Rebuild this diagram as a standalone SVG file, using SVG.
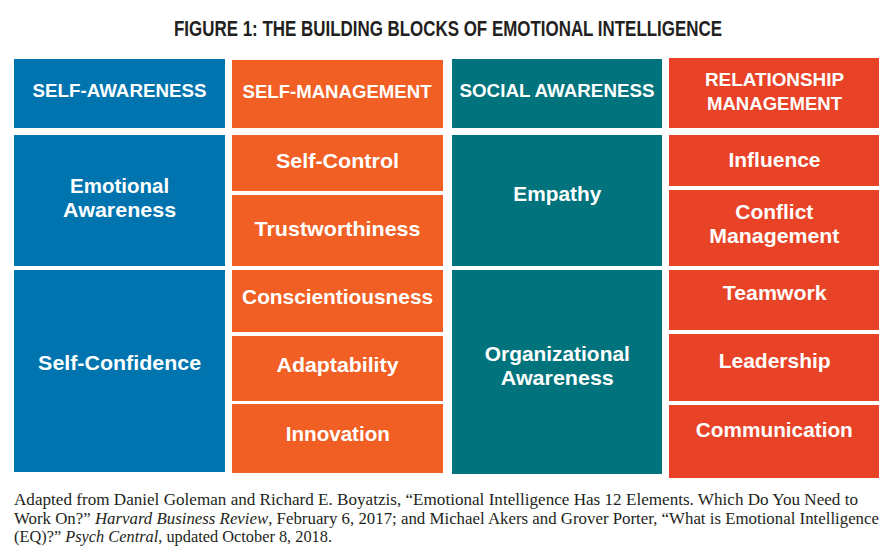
<svg xmlns="http://www.w3.org/2000/svg" width="894" height="557" viewBox="0 0 894 557">
<style>
.blue{fill:#0074AF}
.orange{fill:#F15F24}
.teal{fill:#01737D}
.red{fill:#E84326}
.title{font-family:"Liberation Sans",Arial,sans-serif;font-weight:bold;font-size:22.5px;fill:#231F20;text-anchor:middle}
.hdr{font-family:"Liberation Sans",Arial,sans-serif;font-weight:bold;font-size:17.5px;fill:#FFFFFF;text-anchor:middle}
.lbl{font-family:"Liberation Sans",Arial,sans-serif;font-weight:bold;font-size:21px;fill:#FFFFFF;text-anchor:middle}
.note{font-family:"Liberation Serif","Times New Roman",serif;font-size:16.5px;fill:#231F20}
</style>
<rect width="894" height="557" fill="#FFFFFF"/>
<g id="title" transform="translate(448,36) scale(0.665,1)">
<text class="title" x="0" y="0" textLength="824" lengthAdjust="spacingAndGlyphs">FIGURE 1: THE BUILDING BLOCKS OF EMOTIONAL INTELLIGENCE</text>
</g>

<g id="hdr-self-awareness">
<rect class="blue" x="14" y="59" width="211" height="69"/>
<text class="hdr" x="119.5" y="96.7" textLength="174" lengthAdjust="spacingAndGlyphs">SELF-AWARENESS</text>
</g>
<g id="hdr-self-management">
<rect class="orange" x="232" y="60" width="211" height="68"/>
<text class="hdr" x="337" y="97.5" textLength="189" lengthAdjust="spacingAndGlyphs">SELF-MANAGEMENT</text>
</g>
<g id="hdr-social-awareness">
<rect class="teal" x="452" y="59" width="210" height="69"/>
<text class="hdr" x="557" y="96.5" textLength="195" lengthAdjust="spacingAndGlyphs">SOCIAL AWARENESS</text>
</g>
<g id="hdr-relationship-management">
<rect class="red" x="669" y="58" width="210" height="70"/>
<text class="hdr" x="774.5" y="86" textLength="139" lengthAdjust="spacingAndGlyphs">RELATIONSHIP</text>
<text class="hdr" x="774.5" y="110.3" textLength="135" lengthAdjust="spacingAndGlyphs">MANAGEMENT</text>
</g>

<g id="emotional-awareness">
<rect class="blue" x="14" y="135" width="211" height="131"/>
<text class="lbl" x="119.6" y="192.7" textLength="99" lengthAdjust="spacingAndGlyphs">Emotional</text>
<text class="lbl" x="119.6" y="216.7" textLength="113" lengthAdjust="spacingAndGlyphs">Awareness</text>
</g>
<g id="self-confidence">
<rect class="blue" x="14" y="270" width="211" height="202"/>
<text class="lbl" x="119.6" y="370.3" textLength="163" lengthAdjust="spacingAndGlyphs">Self-Confidence</text>
</g>

<g id="self-control">
<rect class="orange" x="232" y="135" width="211" height="56"/>
<text class="lbl" x="337.5" y="167.7" textLength="123" lengthAdjust="spacingAndGlyphs">Self-Control</text>
</g>
<g id="trustworthiness">
<rect class="orange" x="232" y="195" width="211" height="71"/>
<text class="lbl" x="337.5" y="236" textLength="166" lengthAdjust="spacingAndGlyphs">Trustworthiness</text>
</g>
<g id="conscientiousness">
<rect class="orange" x="232" y="270" width="211" height="62"/>
<text class="lbl" x="337.6" y="304.3" textLength="191" lengthAdjust="spacingAndGlyphs">Conscientiousness</text>
</g>
<g id="adaptability">
<rect class="orange" x="232" y="336" width="211" height="65"/>
<text class="lbl" x="337.5" y="372.3" textLength="122" lengthAdjust="spacingAndGlyphs">Adaptability</text>
</g>
<g id="innovation">
<rect class="orange" x="232" y="404" width="211" height="69"/>
<text class="lbl" x="337.8" y="441" textLength="104" lengthAdjust="spacingAndGlyphs">Innovation</text>
</g>

<g id="empathy">
<rect class="teal" x="452" y="135" width="210" height="131"/>
<text class="lbl" x="557.3" y="200.7" textLength="88" lengthAdjust="spacingAndGlyphs">Empathy</text>
</g>
<g id="organizational-awareness">
<rect class="teal" x="452" y="270" width="210" height="204"/>
<text class="lbl" x="557.3" y="361" textLength="145" lengthAdjust="spacingAndGlyphs">Organizational</text>
<text class="lbl" x="557.3" y="385" textLength="113" lengthAdjust="spacingAndGlyphs">Awareness</text>
</g>

<g id="influence">
<rect class="red" x="669" y="135" width="210" height="51"/>
<text class="lbl" x="774.5" y="166.7" textLength="92" lengthAdjust="spacingAndGlyphs">Influence</text>
</g>
<g id="conflict-management">
<rect class="red" x="669" y="190" width="210" height="76"/>
<text class="lbl" x="774.3" y="219.3" textLength="78" lengthAdjust="spacingAndGlyphs">Conflict</text>
<text class="lbl" x="774.3" y="243.3" textLength="130" lengthAdjust="spacingAndGlyphs">Management</text>
</g>
<g id="teamwork">
<rect class="red" x="669" y="270" width="210" height="60"/>
<text class="lbl" x="774.7" y="300" textLength="104" lengthAdjust="spacingAndGlyphs">Teamwork</text>
</g>
<g id="leadership">
<rect class="red" x="669" y="334" width="210" height="67"/>
<text class="lbl" x="774.7" y="368.3" textLength="112" lengthAdjust="spacingAndGlyphs">Leadership</text>
</g>
<g id="communication">
<rect class="red" x="669" y="405" width="210" height="73"/>
<text class="lbl" x="774.3" y="436.7" textLength="157" lengthAdjust="spacingAndGlyphs">Communication</text>
</g>

<g id="source-note">
<text class="note" x="14" y="505" textLength="844" lengthAdjust="spacingAndGlyphs">Adapted from Daniel Goleman and Richard E. Boyatzis, “Emotional Intelligence Has 12 Elements. Which Do You Need to</text>
<text class="note" x="14" y="523.5" textLength="865" lengthAdjust="spacingAndGlyphs">Work On?” <tspan font-style="italic">Harvard Business Review</tspan>, February 6, 2017; and Michael Akers and Grover Porter, “What is Emotional Intelligence</text>
<text class="note" x="14" y="542" textLength="318" lengthAdjust="spacingAndGlyphs">(EQ)?” <tspan font-style="italic">Psych Central</tspan>, updated October 8, 2018.</text>
</g>
</svg>
